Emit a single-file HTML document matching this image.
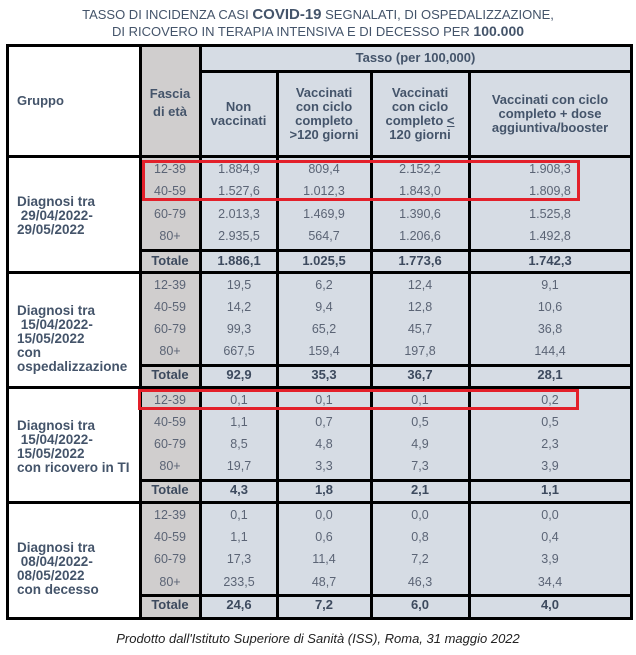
<!DOCTYPE html>
<html><head><meta charset="utf-8"><style>
body{margin:0;width:636px;height:655px;background:#fff;position:relative;font-family:"Liberation Sans",sans-serif;overflow:hidden}
div{position:absolute}
.bg{}
.h{background:#000}
.v{background:#000;width:3px}
.t{height:20px;line-height:20px;text-align:center;font-size:12.5px;color:#5b6475;width:90px;margin-left:-45px;white-space:nowrap}
.b{font-weight:bold;color:#3d4a5e;font-size:13px}
.hd{font-weight:bold;color:#44546a;font-size:13px;text-align:center;line-height:15px}
.g{font-weight:bold;color:#44546a;font-size:13.5px;line-height:14px;left:17px}
.red{border:3px solid #e3202a;box-sizing:border-box}
</style></head><body>
<div style="left:0;width:636px;top:6px;text-align:center;color:#44546a;font-size:13px;line-height:17px">TASSO DI INCIDENZA CASI <b style="font-size:15px">COVID-19</b> SEGNALATI, DI OSPEDALIZZAZIONE,<br>DI RICOVERO IN TERAPIA INTENSIVA E DI DECESSO PER <b style="font-size:14px">100.000</b></div>
<div style="left:140px;top:46px;width:60px;height:572px;background:#d0cece"></div>
<div style="left:200px;top:46px;width:431px;height:572px;background:#d6dce4"></div>
<!-- lines -->
<div class="h" style="left:6px;top:44px;width:627px;height:3px"></div>
<div class="h" style="left:200px;top:70px;width:431px;height:3px"></div>
<div class="h" style="left:6px;top:155px;width:627px;height:3px"></div>
<div class="h" style="left:140px;top:249px;width:491px;height:3px"></div>
<div class="h" style="left:6px;top:271px;width:627px;height:3px"></div>
<div class="h" style="left:140px;top:364px;width:491px;height:3px"></div>
<div class="h" style="left:6px;top:386px;width:627px;height:3px"></div>
<div class="h" style="left:140px;top:479px;width:491px;height:3px"></div>
<div class="h" style="left:6px;top:501px;width:627px;height:3px"></div>
<div class="h" style="left:140px;top:594px;width:491px;height:3px"></div>
<div class="h" style="left:6px;top:617px;width:627px;height:3px"></div>
<div class="v" style="left:6px;top:44px;height:576px"></div>
<div class="v" style="left:139px;top:44px;height:576px"></div>
<div class="v" style="left:199px;top:44px;height:576px"></div>
<div class="v" style="left:276px;top:71px;height:549px"></div>
<div class="v" style="left:370px;top:71px;height:549px"></div>
<div class="v" style="left:468px;top:71px;height:549px"></div>
<div class="v" style="left:630px;top:44px;height:576px"></div>
<!-- headers -->
<div class="hd" style="left:200px;width:431px;top:50px">Tasso (per 100,000)</div>
<div class="hd" style="left:17px;top:93px">Gruppo</div>
<div class="hd" style="left:140px;width:60px;top:85px;line-height:18px">Fascia<br>di età</div>
<div class="hd" style="left:200px;width:77px;top:100px;line-height:14px">Non<br>vaccinati</div>
<div class="hd" style="left:277px;width:94px;top:86px;line-height:14px">Vaccinati<br>con ciclo<br>completo<br>&gt;120 giorni</div>
<div class="hd" style="left:371px;width:98px;top:86px;line-height:14px">Vaccinati<br>con ciclo<br>completo <u>&lt;</u><br>120 giorni</div>
<div class="hd" style="left:469px;width:162px;top:93px;line-height:14px">Vaccinati con ciclo<br>completo + dose<br>aggiuntiva/booster</div>
<!-- group labels -->
<div class="g" style="top:195px">Diagnosi tra<br>&nbsp;29/04/2022-<br>29/05/2022</div>
<div class="g" style="top:304px">Diagnosi tra<br>&nbsp;15/04/2022-<br>15/05/2022<br>con<br>ospedalizzazione</div>
<div class="g" style="top:419px">Diagnosi tra<br>&nbsp;15/04/2022-<br>15/05/2022<br>con ricovero in TI</div>
<div class="g" style="top:541px">Diagnosi tra<br>&nbsp;08/04/2022-<br>08/05/2022<br>con decesso</div>
<!-- group 1 -->
<div class="t" style="left:170px;top:159px">12-39</div><div class="t" style="left:239px;top:159px">1.884,9</div><div class="t" style="left:324px;top:159px">809,4</div><div class="t" style="left:420px;top:159px">2.152,2</div><div class="t" style="left:550px;top:159px">1.908,3</div>
<div class="t" style="left:170px;top:181px">40-59</div><div class="t" style="left:239px;top:181px">1.527,6</div><div class="t" style="left:324px;top:181px">1.012,3</div><div class="t" style="left:420px;top:181px">1.843,0</div><div class="t" style="left:550px;top:181px">1.809,8</div>
<div class="t" style="left:170px;top:204px">60-79</div><div class="t" style="left:239px;top:204px">2.013,3</div><div class="t" style="left:324px;top:204px">1.469,9</div><div class="t" style="left:420px;top:204px">1.390,6</div><div class="t" style="left:550px;top:204px">1.525,8</div>
<div class="t" style="left:170px;top:226px">80+</div><div class="t" style="left:239px;top:226px">2.935,5</div><div class="t" style="left:324px;top:226px">564,7</div><div class="t" style="left:420px;top:226px">1.206,6</div><div class="t" style="left:550px;top:226px">1.492,8</div>
<div class="t b" style="left:170px;top:251px">Totale</div><div class="t b" style="left:239px;top:251px">1.886,1</div><div class="t b" style="left:324px;top:251px">1.025,5</div><div class="t b" style="left:420px;top:251px">1.773,6</div><div class="t b" style="left:550px;top:251px">1.742,3</div>
<!-- group 2 -->
<div class="t" style="left:170px;top:275px">12-39</div><div class="t" style="left:239px;top:275px">19,5</div><div class="t" style="left:324px;top:275px">6,2</div><div class="t" style="left:420px;top:275px">12,4</div><div class="t" style="left:550px;top:275px">9,1</div>
<div class="t" style="left:170px;top:297px">40-59</div><div class="t" style="left:239px;top:297px">14,2</div><div class="t" style="left:324px;top:297px">9,4</div><div class="t" style="left:420px;top:297px">12,8</div><div class="t" style="left:550px;top:297px">10,6</div>
<div class="t" style="left:170px;top:319px">60-79</div><div class="t" style="left:239px;top:319px">99,3</div><div class="t" style="left:324px;top:319px">65,2</div><div class="t" style="left:420px;top:319px">45,7</div><div class="t" style="left:550px;top:319px">36,8</div>
<div class="t" style="left:170px;top:341px">80+</div><div class="t" style="left:239px;top:341px">667,5</div><div class="t" style="left:324px;top:341px">159,4</div><div class="t" style="left:420px;top:341px">197,8</div><div class="t" style="left:550px;top:341px">144,4</div>
<div class="t b" style="left:170px;top:365px">Totale</div><div class="t b" style="left:239px;top:365px">92,9</div><div class="t b" style="left:324px;top:365px">35,3</div><div class="t b" style="left:420px;top:365px">36,7</div><div class="t b" style="left:550px;top:365px">28,1</div>
<!-- group 3 -->
<div class="t" style="left:170px;top:390px">12-39</div><div class="t" style="left:239px;top:390px">0,1</div><div class="t" style="left:324px;top:390px">0,1</div><div class="t" style="left:420px;top:390px">0,1</div><div class="t" style="left:550px;top:390px">0,2</div>
<div class="t" style="left:170px;top:412px">40-59</div><div class="t" style="left:239px;top:412px">1,1</div><div class="t" style="left:324px;top:412px">0,7</div><div class="t" style="left:420px;top:412px">0,5</div><div class="t" style="left:550px;top:412px">0,5</div>
<div class="t" style="left:170px;top:434px">60-79</div><div class="t" style="left:239px;top:434px">8,5</div><div class="t" style="left:324px;top:434px">4,8</div><div class="t" style="left:420px;top:434px">4,9</div><div class="t" style="left:550px;top:434px">2,3</div>
<div class="t" style="left:170px;top:456px">80+</div><div class="t" style="left:239px;top:456px">19,7</div><div class="t" style="left:324px;top:456px">3,3</div><div class="t" style="left:420px;top:456px">7,3</div><div class="t" style="left:550px;top:456px">3,9</div>
<div class="t b" style="left:170px;top:480px">Totale</div><div class="t b" style="left:239px;top:480px">4,3</div><div class="t b" style="left:324px;top:480px">1,8</div><div class="t b" style="left:420px;top:480px">2,1</div><div class="t b" style="left:550px;top:480px">1,1</div>
<!-- group 4 -->
<div class="t" style="left:170px;top:505px">12-39</div><div class="t" style="left:239px;top:505px">0,1</div><div class="t" style="left:324px;top:505px">0,0</div><div class="t" style="left:420px;top:505px">0,0</div><div class="t" style="left:550px;top:505px">0,0</div>
<div class="t" style="left:170px;top:527px">40-59</div><div class="t" style="left:239px;top:527px">1,1</div><div class="t" style="left:324px;top:527px">0,6</div><div class="t" style="left:420px;top:527px">0,8</div><div class="t" style="left:550px;top:527px">0,4</div>
<div class="t" style="left:170px;top:549px">60-79</div><div class="t" style="left:239px;top:549px">17,3</div><div class="t" style="left:324px;top:549px">11,4</div><div class="t" style="left:420px;top:549px">7,2</div><div class="t" style="left:550px;top:549px">3,9</div>
<div class="t" style="left:170px;top:572px">80+</div><div class="t" style="left:239px;top:572px">233,5</div><div class="t" style="left:324px;top:572px">48,7</div><div class="t" style="left:420px;top:572px">46,3</div><div class="t" style="left:550px;top:572px">34,4</div>
<div class="t b" style="left:170px;top:595px">Totale</div><div class="t b" style="left:239px;top:595px">24,6</div><div class="t b" style="left:324px;top:595px">7,2</div><div class="t b" style="left:420px;top:595px">6,0</div><div class="t b" style="left:550px;top:595px">4,0</div>
<!-- red boxes -->
<div class="red" style="left:142px;top:160px;width:438px;height:41px"></div>
<div class="red" style="left:138px;top:389px;width:441px;height:21px"></div>
<div style="left:0;width:636px;top:631px;text-align:center;font-style:italic;color:#222;font-size:13px">Prodotto dall'Istituto Superiore di Sanità (ISS), Roma, 31 maggio 2022</div>
</body></html>
